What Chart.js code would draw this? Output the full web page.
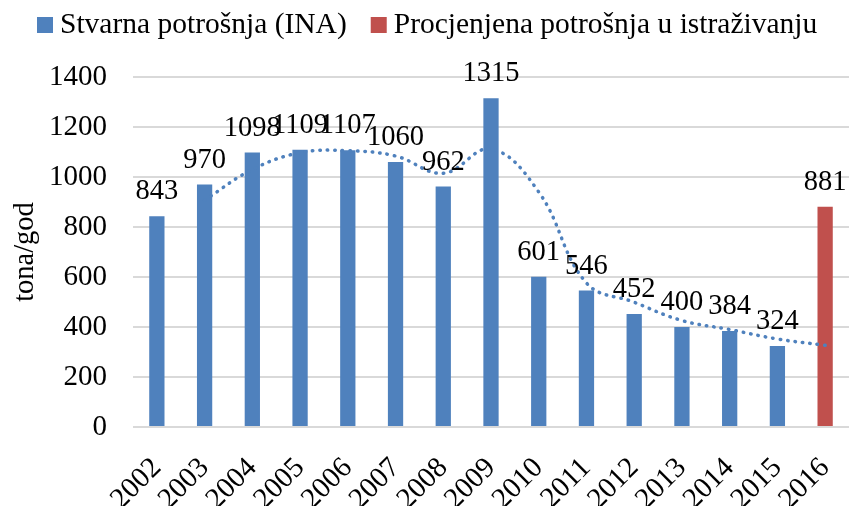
<!DOCTYPE html>
<html>
<head>
<meta charset="utf-8">
<script src="https://cdn.jsdelivr.net/npm/chart.js@4/dist/chart.umd.min.js"></script>
<style>
    html, body { margin: 0; padding: 0; background: #fff; }
    #wrap { width: 849px; height: 506px; }
</style>
</head>
<body>
<div id="wrap"><canvas id="potrosnjaChart" width="849" height="506"></canvas></div>
<script>
    // podaci
    var godine = ['2002', '2003', '2004', '2005', '2006', '2007', '2008', '2009', '2010', '2011', '2012', '2013', '2014', '2015', '2016'];
    var stvarna = [843, 970, 1098, 1109, 1107, 1060, 962, 1315, 601, 546, 452, 400, 384, 324, null];
    var procjena = [null, null, null, null, null, null, null, null, null, null, null, null, null, null, 881];
    var trend = [null, 907, 1030, 1097, 1105, 1084, 1015, 1112, 940, 576, 499, 426, 390, 352, 327];
    var yTicks = [0, 200, 400, 600, 800, 1000, 1200, 1400];

    var FONT = "'Liberation Serif', 'Times New Roman', serif";
    var BLUE = '#4F81BD';
    var RED = '#C0504D';

    // oznake vrijednosti iznad stupaca
    var valueLabels = {
        id: 'valueLabels',
        afterDatasetsDraw: function (chart) {
            var ctx = chart.ctx;
            ctx.save();
            ctx.font = '28.5px ' + FONT;
            ctx.fillStyle = '#000';
            ctx.textAlign = 'center';
            ctx.textBaseline = 'alphabetic';
            [0, 1].forEach(function (di) {
                var meta = chart.getDatasetMeta(di);
                var data = chart.data.datasets[di].data;
                meta.data.forEach(function (bar, i) {
                    if (data[i] == null) return;
                    ctx.fillText(String(data[i]), bar.x, bar.y - 17);
                });
            });
            ctx.restore();
        }
    };

    // legenda
    var topLegend = {
        id: 'topLegend',
        afterDraw: function (chart) {
            var ctx = chart.ctx;
            ctx.save();
            ctx.font = '29.5px ' + FONT;
            ctx.textBaseline = 'alphabetic';
            ctx.textAlign = 'left';
            var x = 37;
            [0, 1].forEach(function (di) {
                var ds = chart.data.datasets[di];
                ctx.fillStyle = ds.backgroundColor;
                ctx.fillRect(x, 17, 16, 16);
                ctx.fillStyle = '#000';
                ctx.fillText(ds.label, x + 23, 33);
                x += 23 + ctx.measureText(ds.label).width + 24;
            });
            ctx.restore();
        }
    };

    var ctx = document.getElementById('potrosnjaChart').getContext('2d');
    var chart = new Chart(ctx, {
        type: 'bar',
        data: {
            labels: godine,
            datasets: [
                {
                    label: 'Stvarna potrošnja (INA)',
                    data: stvarna,
                    backgroundColor: BLUE,
                    grouped: false,
                    categoryPercentage: 1,
                    barPercentage: 0.32,
                    order: 1
                },
                {
                    label: 'Procjenjena potrošnja u istraživanju',
                    data: procjena,
                    backgroundColor: RED,
                    grouped: false,
                    categoryPercentage: 1,
                    barPercentage: 0.32,
                    order: 1
                },
                {
                    type: 'line',
                    label: 'trend',
                    data: trend,
                    borderColor: BLUE,
                    borderWidth: 3.5,
                    borderDash: [0.5, 7],
                    borderCapStyle: 'round',
                    pointRadius: 0,
                    tension: 0.4,
                    fill: false,
                    order: 0
                }
            ]
        },
        options: {
            responsive: false,
            animation: false,
            layout: {
                padding: { top: 77, left: 0, right: 0, bottom: 0 }
            },
            plugins: {
                legend: { display: false },
                tooltip: { enabled: false }
            },
            scales: {
                x: {
                    offset: true,
                    grid: { display: false, drawTicks: false },
                    border: { display: false },
                    ticks: {
                        color: '#000',
                        font: { family: FONT, size: 29 },
                        autoSkip: false,
                        minRotation: 45,
                        maxRotation: 45,
                        padding: 24
                    },
                    afterFit: function (scale) {
                        scale.height = 79;
                        scale.paddingLeft = 0;
                        scale.paddingRight = 0;
                    }
                },
                y: {
                    min: 0,
                    max: 1400,
                    afterBuildTicks: function (scale) {
                        scale.ticks = yTicks.map(function (v) { return { value: v }; });
                    },
                    grid: { color: '#D9D9D9', lineWidth: 2, drawTicks: false },
                    border: { display: false },
                    ticks: {
                        color: '#000',
                        font: { family: FONT, size: 29 },
                        padding: 26,
                        callback: function (v) { return String(v); }
                    },
                    title: {
                        display: true,
                        text: 'tona/god',
                        color: '#000',
                        font: { family: FONT, size: 28.5 },
                        padding: { top: 8, bottom: 0 }
                    },
                    afterFit: function (scale) {
                        scale.width = 133;
                    }
                }
            }
        },
        plugins: [valueLabels, topLegend]
    });
</script>
</body>
</html>
